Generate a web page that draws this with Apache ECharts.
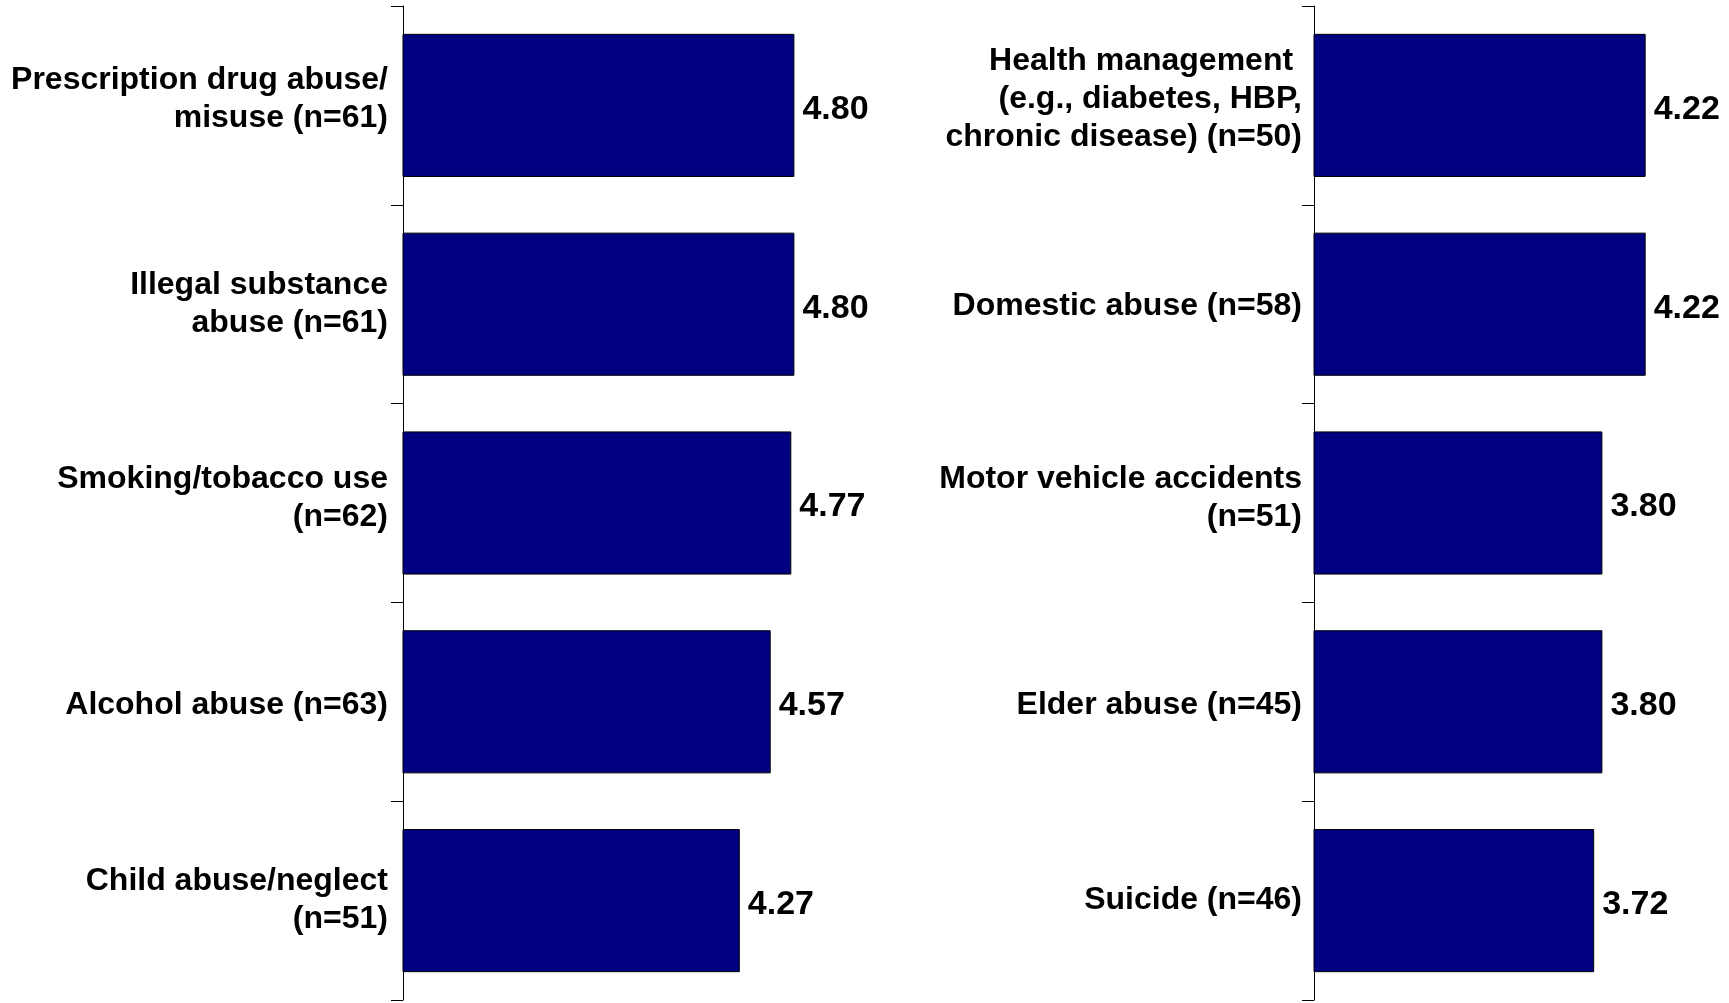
<!DOCTYPE html>
<html>
<head>
<meta charset="utf-8">
<script src="https://cdn.jsdelivr.net/npm/echarts@6/dist/echarts.min.js"></script>
<style>
html,body{margin:0;padding:0;background:#fff;}
#chart{width:1729px;height:1003px;}
</style>
</head>
<body>
<div id="chart"></div>
<script>
var leftCategories = [
  "Prescription drug abuse/\nmisuse (n=61)",
  "Illegal substance\nabuse (n=61)",
  "Smoking/tobacco use\n(n=62)",
  "Alcohol abuse (n=63)",
  "Child abuse/neglect\n(n=51)"
];
var leftValues = [4.80, 4.80, 4.77, 4.57, 4.27];

var rightCategories = [
  "Health management \n(e.g., diabetes, HBP,\nchronic disease) (n=50)",
  "Domestic abuse (n=58)",
  "Motor vehicle accidents\n(n=51)",
  "Elder abuse (n=45)",
  "Suicide (n=46)"
];
var rightValues = [4.22, 4.22, 3.80, 3.80, 3.72];

// style-only vertical nudges of category labels (px of spacer: negative = up, positive = down)
var leftNudge = [-13, 0, -9, 7, 0];
var rightNudge = [-12, 4, -9, 7, 0];

var FONT = "'Liberation Sans', Arial, Helvetica, sans-serif";
var textStyle = {fontFamily: FONT, fontWeight: 'bold', fontSize: 32, color: '#000', lineHeight: 38};

function makeRich(nudges) {
  var rich = {t: {fontFamily: FONT, fontWeight: 'bold', fontSize: 32, color: '#000', lineHeight: 38}};
  nudges.forEach(function (n) {
    if (n) rich['g' + Math.abs(n)] = {fontSize: 1, lineHeight: Math.abs(n), color: 'rgba(0,0,0,0)'};
  });
  return rich;
}
function makeFormatter(nudges) {
  return function (value, index) {
    var s = value.split('\n').map(function (l) { return '{t|' + l + '}'; }).join('\n');
    var n = nudges[index] || 0;
    if (n < 0) s = s + '\n{g' + (-n) + '| }';
    else if (n > 0) s = '{g' + n + '| }\n' + s;
    return s;
  };
}
function yAxisFor(idx, cats, nudges, margin) {
  return {
    type: 'category', gridIndex: idx, data: cats, inverse: true,
    axisLine: {show: true, lineStyle: {color: '#000', width: 1}},
    axisTick: {show: true, length: 12, inside: false, lineStyle: {color: '#000', width: 1}},
    axisLabel: Object.assign({margin: margin, align: 'right', formatter: makeFormatter(nudges), rich: makeRich(nudges)}, textStyle),
    splitLine: {show: false}
  };
}
function xAxisFor(idx) {
  return {type: 'value', gridIndex: idx, min: 1, max: 5, show: false, splitLine: {show: false}};
}
function seriesFor(idx, vals) {
  return {
    type: 'bar', xAxisIndex: idx, yAxisIndex: idx, data: vals,
    barCategoryGap: '28%',
    itemStyle: {color: '#000080', borderColor: '#000', borderWidth: 1},
    label: {show: true, position: 'right', distance: 8, offset: [0, 4],
      fontFamily: FONT, fontWeight: 'bold', fontSize: 34, color: '#000',
      formatter: function (p) { return p.value.toFixed(2); }},
    emphasis: {disabled: true}
  };
}

var chart = echarts.init(document.getElementById('chart'), null, {renderer: 'canvas'});
chart.setOption({
  animation: false,
  backgroundColor: '#fff',
  grid: [
    {left: 403, top: 6, width: 412, height: 994, containLabel: false},
    {left: 1314, top: 6, width: 412, height: 994, containLabel: false}
  ],
  xAxis: [xAxisFor(0), xAxisFor(1)],
  yAxis: [yAxisFor(0, leftCategories, leftNudge, 15), yAxisFor(1, rightCategories, rightNudge, 12)],
  series: [seriesFor(0, leftValues), seriesFor(1, rightValues)]
});
</script>
</body>
</html>
